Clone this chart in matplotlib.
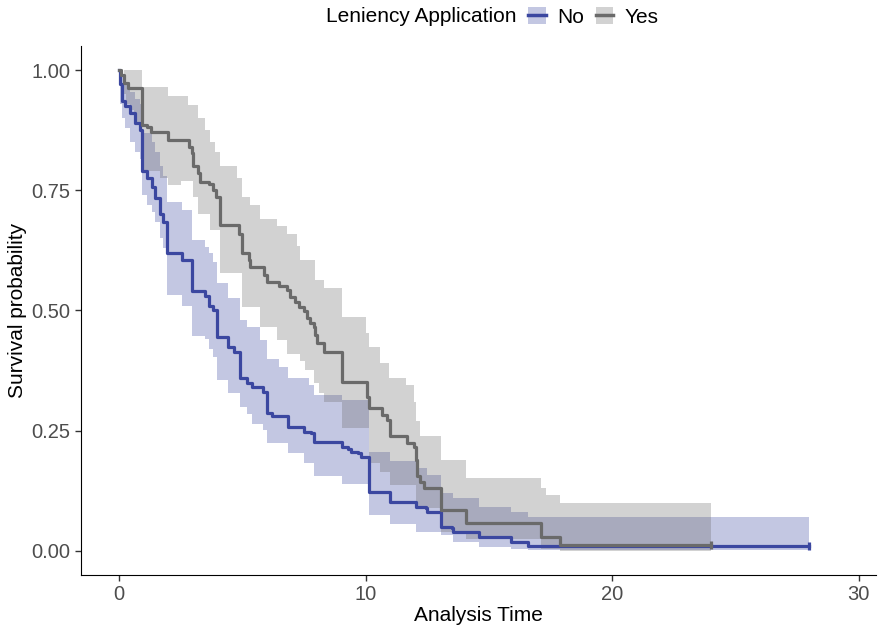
import numpy as np
import matplotlib
matplotlib.use("Agg")
import matplotlib.pyplot as plt
from matplotlib.patches import Patch
from matplotlib.lines import Line2D

plt.rcParams['font.family'] = ['Liberation Sans', 'DejaVu Sans']

# Grupo "No": curva de supervivencia (tiempo, S)
t_no = [0, 0.04, 0.11, 0.24, 0.45, 0.65, 0.85, 0.92, 1.13, 1.33, 1.46, 1.67, 1.8, 1.94,
        2.55, 2.95, 3.5, 3.65, 3.8, 3.98, 4.44, 4.65, 4.92, 5.2, 5.4, 5.85, 6.0, 6.2,
        6.87, 7.5, 7.8, 7.9, 9.05, 9.3, 9.4, 9.7, 9.8, 10.13, 11.0, 12.03, 12.45, 12.5,
        13.05, 13.5, 13.55, 14.6, 15.9, 16.6]
s_no = [1.0, 0.97, 0.935, 0.925, 0.91, 0.89, 0.875, 0.79, 0.775, 0.757, 0.734, 0.70, 0.685, 0.62,
        0.605, 0.54, 0.53, 0.51, 0.50, 0.445, 0.425, 0.414, 0.36, 0.35, 0.34, 0.33, 0.287, 0.28,
        0.258, 0.248, 0.245, 0.227, 0.217, 0.213, 0.206, 0.203, 0.196, 0.123, 0.102, 0.092, 0.089, 0.082,
        0.05, 0.047, 0.04, 0.03, 0.019, 0.01]
fin_no = 28.0

# Banda de confianza "No"
tb_no = [0, 0.04, 0.11, 0.24, 0.45, 0.65, 0.85, 0.92, 1.13, 1.33, 1.46, 1.67, 1.8, 1.94,
         2.55, 2.95, 3.5, 3.65, 3.8, 3.98, 4.44, 4.92, 5.2, 5.4, 5.7, 5.85, 6.0, 6.5, 6.87,
         7.5, 7.7, 7.9, 9.05, 10.13, 11.0, 12.03, 12.5, 13.05, 13.55, 14.6, 15.9, 16.6]
lo_no = [1.0, 0.93, 0.90, 0.88, 0.85, 0.83, 0.816, 0.74, 0.72, 0.705, 0.685, 0.65, 0.63, 0.532,
         0.51, 0.446, 0.44, 0.42, 0.404, 0.355, 0.328, 0.30, 0.285, 0.265, 0.265, 0.252, 0.224, 0.224, 0.203,
         0.183, 0.183, 0.155, 0.14, 0.075, 0.055, 0.04, 0.04, 0.033, 0.019, 0.008, 0.004, 0.001]
hi_no = [1.0, 1.0, 0.99, 0.975, 0.955, 0.94, 0.93, 0.87, 0.87, 0.85, 0.83, 0.80, 0.78, 0.726,
         0.709, 0.647, 0.633, 0.62, 0.60, 0.557, 0.525, 0.48, 0.466, 0.466, 0.439, 0.439, 0.40, 0.383, 0.36,
         0.36, 0.345, 0.325, 0.314, 0.206, 0.186, 0.172, 0.158, 0.12, 0.11, 0.092, 0.082, 0.071]

# Grupo "Yes": curva de supervivencia
t_si = [0, 0.1, 0.2, 0.35, 0.92, 1.13, 1.3, 2.0, 2.85, 2.95, 3.0, 3.2, 3.3, 3.65, 3.8, 3.95, 4.1,
        4.85, 4.98, 5.26, 5.33, 5.87, 6.0, 6.48, 6.82, 6.95, 7.15, 7.29, 7.49, 7.63, 7.75, 7.9,
        7.97, 8.04, 8.3, 9.05, 10.05, 10.13, 10.68, 10.88, 11.0, 11.7, 11.96, 12.03, 12.1, 12.2,
        12.35, 13.05, 14.07, 17.1, 17.9]
s_si = [1.0, 0.99, 0.973, 0.962, 0.886, 0.882, 0.872, 0.855, 0.84, 0.827, 0.80, 0.785, 0.768, 0.764, 0.75, 0.737, 0.678,
        0.66, 0.62, 0.605, 0.59, 0.574, 0.56, 0.55, 0.543, 0.529, 0.518, 0.508, 0.498, 0.484, 0.473, 0.466,
        0.45, 0.432, 0.414, 0.352, 0.32, 0.297, 0.283, 0.272, 0.238, 0.224, 0.217, 0.19, 0.155, 0.144,
        0.13, 0.085, 0.058, 0.03, 0.012]
fin_si = 24.0

# Banda de confianza "Yes"
tb_si = [0, 0.2, 0.3, 0.45, 0.6, 0.92, 1.67, 2.0, 2.5, 2.8, 3.0, 3.2, 3.5, 3.7, 3.9, 4.1, 4.8, 4.98,
         5.33, 5.73, 6.41, 6.83, 7.2, 7.36, 7.55, 7.9, 7.97, 8.1, 8.3, 9.05, 10.0, 10.13, 10.6, 10.94,
         11.0, 11.63, 11.96, 12.03, 12.2, 13.05, 14.07, 17.1, 17.3, 17.9]
lo_si = [1.0, 0.95, 0.93, 0.917, 0.89, 0.79, 0.775, 0.76, 0.77, 0.77, 0.737, 0.70, 0.70, 0.667, 0.667, 0.577, 0.577, 0.508,
         0.508, 0.466, 0.439, 0.41, 0.41, 0.394, 0.376, 0.349, 0.349, 0.328, 0.31, 0.255, 0.255, 0.183, 0.165, 0.165,
         0.137, 0.137, 0.137, 0.09, 0.09, 0.04, 0.025, 0.005, 0.005, 0.0]
hi_si = [1.0, 1.0, 1.0, 1.0, 1.0, 0.965, 0.965, 0.945, 0.945, 0.927, 0.927, 0.90, 0.875, 0.85, 0.83, 0.80, 0.775, 0.735,
         0.72, 0.69, 0.676, 0.66, 0.635, 0.605, 0.605, 0.605, 0.563, 0.563, 0.547, 0.487, 0.453, 0.425, 0.39, 0.36,
         0.36, 0.345, 0.31, 0.27, 0.24, 0.19, 0.152, 0.13, 0.116, 0.10]

grupos = ['No', 'Yes']
colores = ['#3B47A0', '#6A6A6A']

fig = plt.figure(figsize=(8.87, 6.28), dpi=100)
ax = fig.add_axes([0.0913, 0.0844, 0.8963, 0.8424])

datos = [(t_no, s_no, tb_no, lo_no, hi_no, fin_no), (t_si, s_si, tb_si, lo_si, hi_si, fin_si)]

# Bandas primero, luego las curvas
for (t, s, tb, lo, hi, fin), col in zip(datos, colores):
    tb2 = list(tb) + [fin]
    ax.fill_between(tb2, list(lo) + [lo[-1]], list(hi) + [hi[-1]], step='post',
                    color=col, alpha=0.3, linewidth=0)

for (t, s, tb, lo, hi, fin), col in zip(datos, colores):
    ax.step(list(t) + [fin], list(s) + [s[-1]], where='post', color=col, linewidth=2.3)
    ax.plot([fin], [s[-1]], marker='|', color=col, markersize=6, markeredgewidth=2.3)

ax.set_xlim(-1.54, 30.7)
ax.set_ylim(-0.05, 1.05)
ax.set_xticks([0, 10, 20, 30])
ax.set_yticks([0, 0.25, 0.5, 0.75, 1.0])
ax.set_yticklabels(['0.00', '0.25', '0.50', '0.75', '1.00'])
ax.tick_params(labelsize=14.5, labelcolor='#4D4D4D', color='#333333', length=4, width=1)
ax.spines['top'].set_visible(False)
ax.spines['right'].set_visible(False)
ax.set_xlabel('Analysis Time', fontsize=15, labelpad=1)
ax.set_ylabel('Survival probability', fontsize=15, labelpad=3)

# Leyenda arriba, con el titulo a la izquierda
fig.text(517 / 887, 1 - 17 / 628, 'Leniency Application', fontsize=15, ha='right', va='center')
handles = [(Patch(facecolor=c, alpha=0.3, edgecolor='none'), Line2D([], [], color=c, linewidth=2.5))
           for c in colores]
fig.legend(handles, grupos, loc='center left', bbox_to_anchor=(528 / 887, 1 - 17 / 628), ncol=2,
           frameon=False, fontsize=15, handlelength=0.85, handleheight=0.9, handletextpad=0.55,
           columnspacing=0.55, borderaxespad=0, borderpad=0)

fig.savefig('out.png', dpi=100)
